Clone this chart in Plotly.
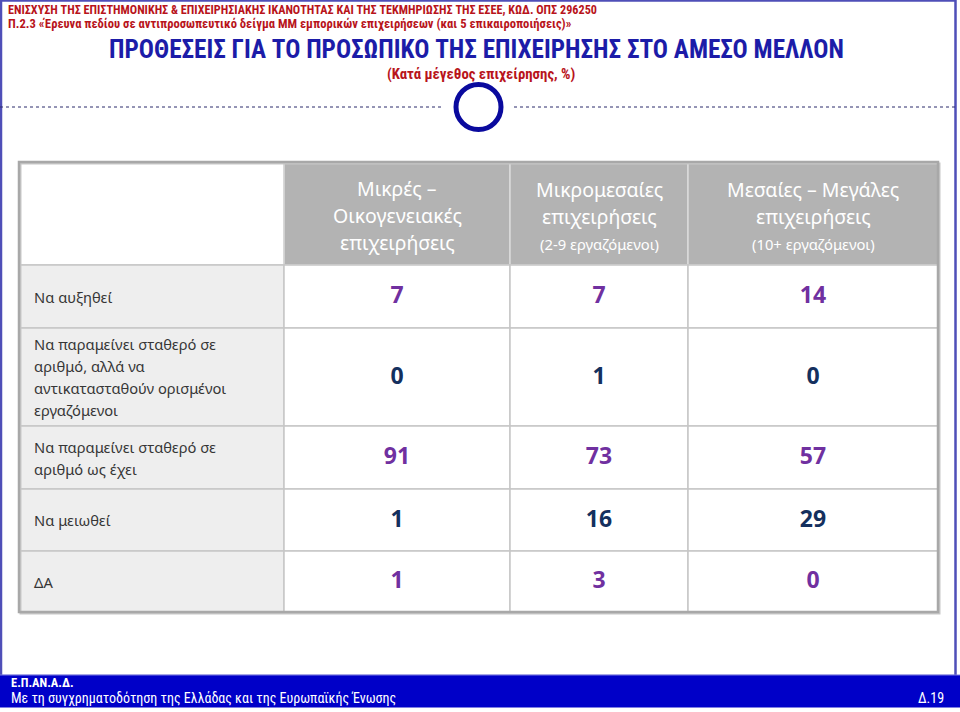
import plotly.graph_objects as go

# ---------------- data ----------------
row_labels = [
    "Να αυξηθεί",
    "Να παραμείνει σταθερό σε<br>αριθμό, αλλά να<br>αντικατασταθούν ορισμένοι<br>εργαζόμενοι",
    "Να παραμείνει σταθερό σε<br>αριθμό ως έχει",
    "Να μειωθεί",
    "ΔΑ",
]
col_headers = [
    "Μικρές –<br>Οικογενειακές<br>επιχειρήσεις",
    "Μικρομεσαίες<br>επιχειρήσεις",
    "Μεσαίες – Μεγάλες<br>επιχειρήσεις",
]
col_notes = ["", "(2-9 εργαζόμενοι)", "(10+ εργαζόμενοι)"]
micro_family = [7, 0, 91, 1, 1]
small_medium = [7, 1, 73, 16, 3]
medium_large = [14, 0, 57, 29, 0]
series = [micro_family, small_medium, medium_large]

top_line1 = "ΕΝΙΣΧΥΣΗ ΤΗΣ ΕΠΙΣΤΗΜΟΝΙΚΗΣ & ΕΠΙΧΕΙΡΗΣΙΑΚΗΣ ΙΚΑΝΟΤΗΤΑΣ ΚΑΙ ΤΗΣ ΤΕΚΜΗΡΙΩΣΗΣ ΤΗΣ ΕΣΕΕ, ΚΩΔ. ΟΠΣ 296250"
top_line2 = "Π.2.3 «Έρευνα πεδίου σε αντιπροσωπευτικό δείγμα ΜΜ εμπορικών επιχειρήσεων (και 5 επικαιροποιήσεις)»"
title = "ΠΡΟΘΕΣΕΙΣ ΓΙΑ ΤΟ ΠΡΟΣΩΠΙΚΟ ΤΗΣ ΕΠΙΧΕΙΡΗΣΗΣ ΣΤΟ ΑΜΕΣΟ ΜΕΛΛΟΝ"
subtitle = "(Κατά μέγεθος επιχείρησης, %)"
footer1 = "Ε.Π.ΑΝ.Α.Δ."
footer2 = "Με τη συγχρηματοδότηση της Ελλάδας και της Ευρωπαϊκής Ένωσης"
page_no = "Δ.19"

# ---------------- layout constants ----------------
W, H = 960, 712
col_edges = [19, 284, 510, 688, 938]
row_edges = [162, 265, 328, 426, 489, 551, 612]
FONT = "Noto Sans, DejaVu Sans, sans-serif"
NARROW = "Liberation Sans Narrow, Roboto Condensed, Noto Sans, sans-serif"
DARKRED = "#B8141B"
TITLEBLUE = "#1C1CA8"
PURPLE = "#7030A0"
NAVY = "#14305E"
LABEL = "#363636"
GRID = "#C6C6C6"

fig = go.Figure()
shapes = []
ann = []

# slide frame
shapes.append(dict(type="rect", x0=1, x1=955.5, y0=0.5, y1=676, line=dict(color="#4F4FB8", width=2.5),
                   fillcolor="rgba(0,0,0,0)", layer="below"))
# footer bar
shapes.append(dict(type="rect", x0=0, x1=W, y0=675, y1=707.5, line=dict(width=0), fillcolor="#0000C8", layer="below"))
shapes.append(dict(type="line", x0=0, x1=W, y0=675, y1=675, line=dict(color="#7B7BE0", width=1)))

# dotted separator + circle
shapes.append(dict(type="line", x0=0, x1=442, y0=107, y1=107, line=dict(color="#2A2A6A", width=1, dash="dot")))
shapes.append(dict(type="line", x0=514, x1=955, y0=107, y1=107, line=dict(color="#2A2A6A", width=1, dash="dot")))
shapes.append(dict(type="circle", x0=456, x1=501, y0=84.5, y1=129.5, line=dict(color="#0A0A9E", width=5),
                   fillcolor="white"))

# table cells
nrows = len(row_labels)
ncols = len(col_headers)
shapes.append(dict(type="rect", x0=col_edges[0], x1=col_edges[1], y0=row_edges[0], y1=row_edges[1],
                   fillcolor="white", line=dict(color=GRID, width=1.5), layer="below"))
for j in range(ncols):
    shapes.append(dict(type="rect", x0=col_edges[j + 1], x1=col_edges[j + 2], y0=row_edges[0], y1=row_edges[1],
                       fillcolor="#B3B3B3", line=dict(color="#DADADA", width=1.5), layer="below"))
for i in range(nrows):
    shapes.append(dict(type="rect", x0=col_edges[0], x1=col_edges[1], y0=row_edges[i + 1], y1=row_edges[i + 2],
                       fillcolor="#EEEEEE", line=dict(color=GRID, width=1.5), layer="below"))
    for j in range(ncols):
        shapes.append(dict(type="rect", x0=col_edges[j + 1], x1=col_edges[j + 2], y0=row_edges[i + 1],
                           y1=row_edges[i + 2], fillcolor="white", line=dict(color=GRID, width=1.5), layer="below"))
shapes.append(dict(type="rect", x0=col_edges[0] + 1.5, x1=col_edges[-1] + 1.5, y0=row_edges[0] + 1.5,
                   y1=row_edges[-1] + 1.5, line=dict(color="#C8C8C8", width=2), fillcolor="rgba(0,0,0,0)"))
shapes.append(dict(type="rect", x0=col_edges[0], x1=col_edges[-1], y0=row_edges[0], y1=row_edges[-1],
                   line=dict(color="#A8A8A8", width=2.5), fillcolor="rgba(0,0,0,0)"))

# header text
for j in range(ncols):
    cx = (col_edges[j + 1] + col_edges[j + 2]) / 2
    lines = col_headers[j].split("<br>")
    ys = [188, 215, 242] if len(lines) == 3 else [189, 216]
    for k, t in enumerate(lines):
        ann.append(dict(x=cx, y=ys[k], text=t, showarrow=False, xanchor="center", yanchor="middle",
                        font=dict(family=FONT, size=19.5, color="white")))
    if col_notes[j]:
        ann.append(dict(x=cx, y=243.5, text=col_notes[j], showarrow=False, xanchor="center", yanchor="middle",
                        font=dict(family=FONT, size=14.8, color="white")))

# row labels
for i in range(nrows):
    lines = row_labels[i].split("<br>")
    cy = (row_edges[i + 1] + row_edges[i + 2]) / 2
    step = 22
    y0 = cy - step * (len(lines) - 1) / 2
    for k, t in enumerate(lines):
        ann.append(dict(x=32, y=y0 + k * step, text=t, showarrow=False, xanchor="left", yanchor="middle",
                        font=dict(family=FONT, size=14.7, color=LABEL)))

# values as text traces
centers_x = [(col_edges[j + 1] + col_edges[j + 2]) / 2 for j in range(ncols)]
centers_y = [(row_edges[i + 1] + row_edges[i + 2]) / 2 + 1 for i in range(nrows)]
row_colors = [PURPLE if i % 2 == 0 else NAVY for i in range(nrows)]
for j, vals in enumerate(series):
    fig.add_trace(go.Scatter(
        x=[centers_x[j]] * nrows, y=centers_y, mode="text",
        text=[str(v) for v in vals],
        textfont=dict(family=FONT, size=23, color=row_colors, weight="bold"),
        textposition="middle center", hoverinfo="skip", showlegend=False))

# slide header texts
ann.append(dict(x=6, y=9.5, text="<b>" + top_line1 + "</b>", showarrow=False, xanchor="left", yanchor="middle",
                font=dict(family=NARROW, size=12.2, color=DARKRED)))
ann.append(dict(x=6, y=24, text="<b>" + top_line2 + "</b>", showarrow=False, xanchor="left", yanchor="middle",
                font=dict(family=NARROW, size=12.6, color=DARKRED)))
ann.append(dict(x=476, y=49.5, text="<b>" + title + "</b>", showarrow=False, xanchor="center", yanchor="middle",
                font=dict(family=NARROW, size=25.2, color=TITLEBLUE)))
ann.append(dict(x=481, y=73.5, text="<b>" + subtitle + "</b>", showarrow=False, xanchor="center", yanchor="middle",
                font=dict(family=NARROW, size=14.8, color=DARKRED)))

# footer
ann.append(dict(x=9, y=682.5, text="<b>" + footer1 + "</b>", showarrow=False, xanchor="left", yanchor="middle",
                font=dict(family=NARROW, size=12.5, color="white")))
ann.append(dict(x=9, y=697.5, text=footer2, showarrow=False, xanchor="left", yanchor="middle",
                font=dict(family=NARROW, size=14, color="white")))
ann.append(dict(x=946, y=697.5, text=page_no, showarrow=False, xanchor="right", yanchor="middle",
                font=dict(family=NARROW, size=14, color="white")))

fig.update_layout(
    width=W, height=H, autosize=False,
    margin=dict(l=0, r=0, t=0, b=0),
    paper_bgcolor="white", plot_bgcolor="white",
    xaxis=dict(range=[0, W], visible=False, fixedrange=True),
    yaxis=dict(range=[H, 0], visible=False, fixedrange=True),
    shapes=shapes, annotations=ann, showlegend=False,
)
fig.write_html("out.html", config={"displayModeBar": False},
               post_script="document.body.style.margin='0px';document.body.style.overflow='hidden';")
